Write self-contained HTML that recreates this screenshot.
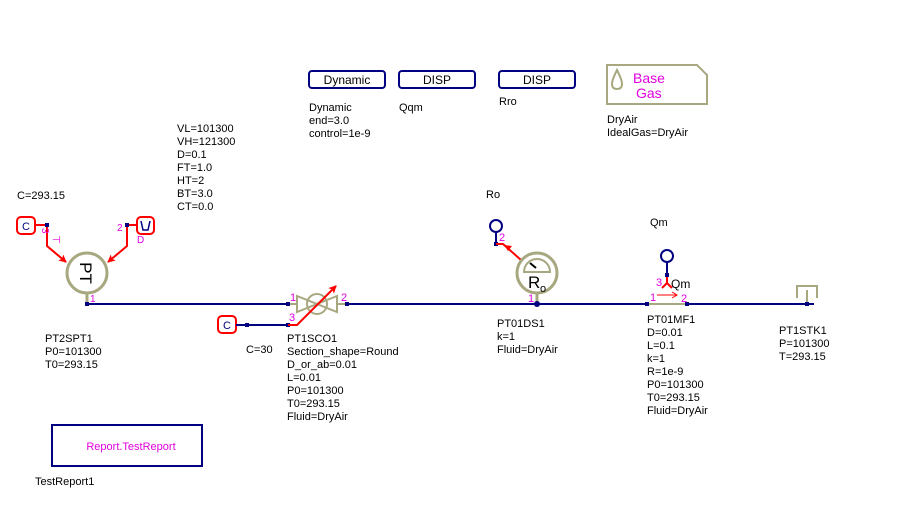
<!DOCTYPE html>
<html><head><style>
html,body{margin:0;padding:0;background:#fff;}
svg{display:block;}
text{font-family:"Liberation Sans",sans-serif;font-size:11px;fill:#000;}
.m{fill:#e000e0;}
</style></head><body>
<svg width="912" height="508" viewBox="0 0 912 508" xmlns="http://www.w3.org/2000/svg">
<defs>
<marker id="ar" markerWidth="8" markerHeight="8" refX="7" refY="4" orient="auto" markerUnits="userSpaceOnUse"><path d="M0,0 L8,4 L0,8 L2,4 z" fill="#f00"/></marker>
</defs>
<!-- top boxes -->
<rect x="309" y="71" width="76" height="17" rx="3" fill="none" stroke="#000080" stroke-width="2"/>
<text x="347" y="84" text-anchor="middle" style="font-size:12px">Dynamic</text>
<rect x="399" y="71" width="76" height="17" rx="3" fill="none" stroke="#000080" stroke-width="2"/>
<text x="437" y="84" text-anchor="middle" style="font-size:12px">DISP</text>
<rect x="499" y="71" width="76" height="17" rx="3" fill="none" stroke="#000080" stroke-width="2"/>
<text x="537" y="84" text-anchor="middle" style="font-size:12px">DISP</text>
<path d="M607,65 L697,65 L707,75 L707,104 L607,104 Z" fill="none" stroke="#a8a880" stroke-width="2"/>
<path d="M617,70 Q612,80 612,84 Q612,89 617,89 Q622,89 622,84 Q622,80 617,70 Z" fill="none" stroke="#a8a880" stroke-width="2"/>
<text x="633" y="83" class="m" style="font-size:14px">Base</text>
<text x="636" y="98" class="m" style="font-size:14px">Gas</text>
<text x="309" y="111">Dynamic</text><text x="309" y="124">end=3.0</text><text x="309" y="137">control=1e-9</text>
<text x="399" y="111">Qqm</text>
<text x="499" y="105">Rro</text>
<text x="607" y="123">DryAir</text><text x="607" y="136">IdealGas=DryAir</text>
<!-- VL block -->
<text x="177" y="132">VL=101300</text><text x="177" y="145">VH=121300</text><text x="177" y="158">D=0.1</text><text x="177" y="171">FT=1.0</text><text x="177" y="184">HT=2</text><text x="177" y="197">BT=3.0</text><text x="177" y="210">CT=0.0</text>
<text x="17" y="199">C=293.15</text>
<!-- main line -->
<line x1="87" y1="304" x2="814" y2="304" stroke="#000080" stroke-width="2"/>
<!-- PT -->
<line x1="87" y1="293" x2="87" y2="304" stroke="#a8a880" stroke-width="3"/>
<circle cx="87" cy="273" r="20" fill="#fff" stroke="#a8a880" stroke-width="3"/>
<text transform="translate(80,273) rotate(90)" text-anchor="middle" style="font-size:17px">PT</text>
<text x="90" y="302" class="m" style="font-size:10px">1</text>
<rect x="17" y="217" width="18" height="17" rx="4" fill="none" stroke="#f00" stroke-width="2"/>
<text x="22" y="230" style="fill:#000080">C</text>
<polyline points="35,225 47,225 47,246 66,262" fill="none" stroke="#f00" stroke-width="2" marker-end="url(#ar)"/>
<rect x="45" y="223" width="4" height="4" fill="#000080"/>
<text x="37" y="229" class="m" style="font-size:10px" transform="rotate(90,40,231)">3</text>
<text x="52" y="243" class="m" style="font-size:10px">⊣</text>
<rect x="137" y="217" width="17" height="17" rx="4" fill="none" stroke="#f00" stroke-width="2"/>
<path d="M141,221 L143,230 L148,230 L150,221" fill="none" stroke="#000080" stroke-width="1.5"/>
<polyline points="137,225 127,225 127,246 108,262" fill="none" stroke="#f00" stroke-width="2" marker-end="url(#ar)"/>
<rect x="125" y="223" width="4" height="4" fill="#000080"/>
<text x="117" y="231" class="m" style="font-size:10px">2</text>
<text x="137" y="243" class="m" style="font-size:10px">D</text>
<rect x="85" y="302" width="4" height="4" fill="#000080"/>
<text x="45" y="342">PT2SPT1</text><text x="45" y="355">P0=101300</text><text x="45" y="368">T0=293.15</text>
<!-- valve -->
<path d="M297,296 L317,304 L297,312 Z M337,296 L317,304 L337,312 Z" fill="#fff" stroke="#a8a880" stroke-width="2"/>
<circle cx="317" cy="304" r="10" fill="none" stroke="#a8a880" stroke-width="2"/>
<line x1="288" y1="304" x2="297" y2="304" stroke="#a8a880" stroke-width="2"/>
<line x1="337" y1="304" x2="347" y2="304" stroke="#a8a880" stroke-width="2"/>
<rect x="286" y="302" width="4" height="4" fill="#000080"/>
<rect x="345" y="302" width="4" height="4" fill="#000080"/>
<text x="290" y="301" class="m">1</text><text x="341" y="301" class="m">2</text><text x="289" y="321" class="m">3</text>
<rect x="218" y="316" width="18" height="17" rx="4" fill="none" stroke="#f00" stroke-width="2"/>
<text x="223" y="329" style="fill:#000080">C</text>
<line x1="236" y1="325" x2="288" y2="325" stroke="#000080" stroke-width="2"/>
<rect x="245" y="323" width="4" height="4" fill="#000080"/>
<rect x="286" y="323" width="4" height="4" fill="#000080"/>
<polyline points="288,325 297,325 336,286" fill="none" stroke="#f00" stroke-width="2" marker-end="url(#ar)"/>
<text x="246" y="353">C=30</text>
<text x="287" y="342">PT1SCO1</text><text x="287" y="355">Section_shape=Round</text><text x="287" y="368">D_or_ab=0.01</text><text x="287" y="381">L=0.01</text><text x="287" y="394">P0=101300</text><text x="287" y="407">T0=293.15</text><text x="287" y="420">Fluid=DryAir</text>
<!-- Ro -->
<text x="486" y="198">Ro</text>
<circle cx="496" cy="226" r="6" fill="none" stroke="#000080" stroke-width="2"/>
<line x1="496" y1="232" x2="496" y2="244" stroke="#000080" stroke-width="2"/>
<rect x="494" y="242" width="4" height="4" fill="#000080"/>
<text x="499" y="241" class="m">2</text>
<polyline points="496,244 503,244 521,260" fill="none" stroke="#f00" stroke-width="2"/>
<path d="M504,245 L512,246 L508,251 Z" fill="#f00"/>
<line x1="537" y1="294" x2="537" y2="304" stroke="#a8a880" stroke-width="3"/>
<circle cx="537" cy="273" r="20" fill="#fff" stroke="#a8a880" stroke-width="3"/>
<path d="M524,272 A13,13 0 0 1 550,272 Z" fill="none" stroke="#a8a880" stroke-width="2"/>
<line x1="530" y1="263" x2="536" y2="268" stroke="#000" stroke-width="2"/>
<text x="528" y="288" style="font-size:17px">R</text><text x="540" y="292" style="font-size:11px">o</text>
<circle cx="537" cy="304" r="3" fill="#000080"/>
<text x="528" y="302" class="m">1</text>
<text x="497" y="327">PT01DS1</text><text x="497" y="340">k=1</text><text x="497" y="353">Fluid=DryAir</text>
<!-- MF -->
<text x="650" y="226">Qm</text>
<circle cx="667" cy="256" r="6" fill="none" stroke="#000080" stroke-width="2"/>
<line x1="667" y1="262" x2="667" y2="276" stroke="#000080" stroke-width="2"/>
<rect x="665" y="273" width="4" height="4" fill="#000080"/>
<polyline points="662,288 667,283 672,288" fill="none" stroke="#f00" stroke-width="2"/>
<line x1="667" y1="277" x2="667" y2="283" stroke="#f00" stroke-width="2"/>
<text x="656" y="286" class="m">3</text><text x="671" y="288" style="font-size:12px">Qm</text>
<line x1="647" y1="304" x2="687" y2="304" stroke="#a8a880" stroke-width="2"/>
<rect x="645" y="302" width="4" height="4" fill="#000080"/>
<rect x="685" y="302" width="4" height="4" fill="#000080"/>
<line x1="657" y1="295" x2="677" y2="295" stroke="#f00" stroke-width="1"/>
<polyline points="672,292 677,295 672,298" fill="none" stroke="#f00"/>
<text x="650" y="301" class="m">1</text><text x="681" y="302" class="m">2</text>
<text x="647" y="323">PT01MF1</text><text x="647" y="336">D=0.01</text><text x="647" y="349">L=0.1</text><text x="647" y="362">k=1</text><text x="647" y="375">R=1e-9</text><text x="647" y="388">P0=101300</text><text x="647" y="401">T0=293.15</text><text x="647" y="414">Fluid=DryAir</text>
<!-- sink -->
<line x1="807" y1="290" x2="807" y2="304" stroke="#a8a880" stroke-width="2"/>
<polyline points="797,298 797,286 817,286 817,298" fill="none" stroke="#a8a880" stroke-width="2"/>
<rect x="805" y="302" width="4" height="4" fill="#000080"/>
<text x="779" y="334">PT1STK1</text><text x="779" y="347">P=101300</text><text x="779" y="360">T=293.15</text>
<!-- report -->
<rect x="52" y="425" width="150" height="41" fill="none" stroke="#000080" stroke-width="2"/>
<text x="131" y="450" text-anchor="middle" class="m">Report.TestReport</text>
<text x="35" y="485">TestReport1</text>
</svg>
</body></html>
